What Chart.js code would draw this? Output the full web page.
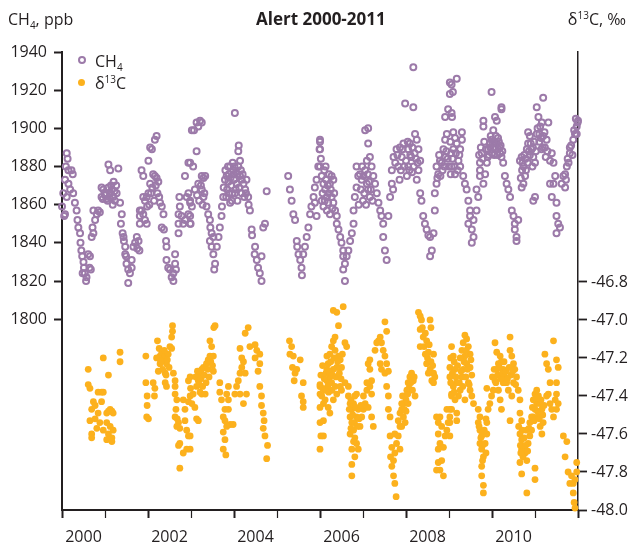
<!DOCTYPE html>
<html><head><meta charset="utf-8">
<script src="https://cdn.jsdelivr.net/npm/chart.js@4.4.0/dist/chart.umd.min.js"></script>
<style>
html,body{margin:0;padding:0;background:#fff;}
#wrap{position:relative;width:632px;height:547px;font-family:'Open Sans',sans-serif;color:#231f20;}
canvas{position:absolute;left:0;top:0;}
.t{position:absolute;white-space:nowrap;font-size:16px;line-height:18px;}
.t sub,.t sup{font-size:10px;line-height:0;}
.mk{position:absolute;border-radius:50%;box-sizing:border-box;}
</style></head><body>
<div id="wrap">
<canvas id="c" width="632" height="547"></canvas>
<div class="t" style="left:8px;top:10px">CH<sub>4</sub>, ppb</div>
<div class="t" style="left:256px;top:10px;font-weight:bold;font-size:17px">Alert 2000-2011</div>
<div class="t" style="right:6px;top:10px">δ<sup>13</sup>C, ‰</div>
<div class="mk" style="left:78px;top:56px;width:8px;height:8px;border:2px solid #9c7aa9"></div>
<div class="t" style="left:95px;top:52px">CH<sub>4</sub></div>
<div class="mk" style="left:78px;top:79px;width:7px;height:7px;background:#fcb11d"></div>
<div class="t" style="left:95px;top:74px">δ<sup>13</sup>C</div>
</div>
<script>
const yearTicks = [2000,2001,2002,2003,2004,2005,2006,2007,2008,2009,2010,2011,2012];
const ch4Ticks = [1800,1820,1840,1860,1880,1900,1920,1940];
const d13Ticks = [-48.0,-47.8,-47.6,-47.4,-47.2,-47.0,-46.8];

// CH4, ppb : [decimal year, value]
const ch4Data = [
[2000.11,1887],[2000.13,1884],[2000.09,1880],[2000.15,1878],[2000.22,1878],[2000.25,1876],[2000.07,1873],[2000.15,1871],[2000.03,1866],[2000.11,1864],[2000.00,1859],[2000.07,1855],[2000.05,1854],[2000.19,1868],[2000.26,1866],[2000.30,1861],[2000.34,1857],[2000.36,1852],[2000.38,1848],[2000.42,1845],[2000.43,1840],[2000.45,1836],[2000.47,1833],[2000.50,1830],[2000.51,1827],[2000.53,1824],[2000.56,1820],[2000.61,1834],[2000.65,1833],[2000.64,1827],[2000.67,1826],[2000.57,1822],[2000.48,1824],
[2000.69,1843],[2000.73,1845],[2000.71,1848],[2000.77,1852],[2000.81,1855],[2000.84,1857],[2000.88,1856],[2000.73,1857],
[2000.92,1869],[2000.96,1868],[2001.00,1865],[2001.04,1863],[2001.08,1869],[2001.12,1866],[2001.16,1868],[2001.19,1864],[2001.23,1862],[2001.27,1866],[2001.31,1879],[2001.08,1881],[2001.12,1878],[2000.95,1863],[2000.92,1864],[2001.35,1861],[2001.39,1855],[2001.37,1850],[2001.41,1845],[2001.43,1843],[2001.47,1838],[2001.47,1834],[2001.50,1829],[2001.54,1826],[2001.58,1824],[2001.54,1819],[2001.62,1831],[2001.66,1838],[2001.70,1840],[2001.74,1843],[2001.78,1841],[2001.75,1837],[2001.80,1836],[2001.62,1827],[2001.49,1833],[2001.44,1841],
[2001.81,1854],[2001.85,1857],[2001.81,1850],[2001.89,1855],[2001.93,1852],[2001.97,1850],[2001.98,1859],[2001.97,1864],[2002.01,1866],[2002.05,1871],[2002.01,1883],[2002.05,1890],[2002.09,1889],[2002.16,1894],[2002.20,1896],[2002.16,1875],[2002.20,1874],[2002.12,1876],[2001.85,1878],[2001.89,1875],[2001.89,1864],[2001.93,1862],[2001.81,1857],
[2002.28,1861],[2002.32,1859],[2002.36,1855],[2002.32,1848],[2002.37,1847],[2002.42,1841],[2002.43,1838],[2002.43,1831],[2002.47,1827],[2002.51,1826],[2002.55,1822],[2002.59,1820],[2002.63,1834],[2002.65,1826],[2002.63,1829],[2002.59,1824],[2002.71,1845],[2002.71,1850],[2002.71,1855],[2002.73,1864],[2002.74,1859],[2002.78,1854],[2002.86,1875],[2002.90,1864],[2002.94,1866],[2002.94,1882],[2002.94,1855],[2002.98,1850],[2003.02,1899],[2002.98,1861],[2002.82,1850],[2002.86,1852],
[2003.13,1903],[2003.21,1904],[2003.17,1901],[2003.07,1899],[2003.25,1903],[2003.13,1888],[2003.05,1880],[2002.98,1882],[2003.25,1875],[2003.29,1874],[2003.33,1875],[2003.17,1871],[2003.25,1868],[2003.29,1864],[2002.98,1862],[2003.02,1859],[2002.98,1854],[2002.99,1850],[2003.36,1859],[2003.40,1855],[2003.44,1852],[2003.45,1848],[2003.48,1845],[2003.44,1841],[2003.52,1843],[2003.48,1838],[2003.52,1834],[2003.56,1829],[2003.54,1826],[2003.60,1838],[2003.64,1843],[2003.67,1848],[2003.71,1854],[2003.72,1859],[2003.75,1864],[2003.76,1869],[2003.79,1873],[2003.83,1875],[2003.87,1872],[2003.84,1868],[2003.91,1880],[2003.98,1878],[2003.97,1882],[2003.99,1876],[2004.02,1866],[2003.91,1861],[2003.95,1862],[2004.06,1871],[2004.10,1880],[2004.14,1883],[2004.10,1888],[2004.11,1891],[2004.02,1908],[2004.14,1875],[2004.18,1873],[2004.22,1871],[2004.26,1868],[2004.29,1873],[2004.33,1864],[2004.34,1860],[2004.37,1857],[2004.41,1847],[2004.42,1844],[2004.49,1838],[2004.48,1834],[2004.53,1831],[2004.56,1827],[2004.60,1824],[2004.64,1820],[2004.64,1833],[2004.68,1848],[2004.72,1850],[2004.76,1867],
[2003.80,1878],[2003.86,1880],[2003.94,1870],[2004.00,1873],[2004.05,1877],[2004.12,1869],[2004.18,1866],[2003.89,1866],[2004.08,1862],
[2005.26,1875],[2005.30,1868],[2005.34,1862],[2005.38,1855],[2005.42,1852],[2005.46,1841],[2005.47,1838],[2005.50,1834],[2005.54,1831],[2005.57,1827],[2005.58,1823],[2005.61,1834],[2005.65,1838],[2005.69,1843],[2005.73,1848],[2005.77,1855],[2005.80,1859],[2005.85,1864],[2005.88,1869],[2005.92,1873],[2005.96,1880],[2006.00,1893],[2005.99,1889],[2005.88,1861],[2005.92,1854],
[2006.00,1894],[2006.00,1889],[2006.00,1880],[2006.04,1875],[2006.08,1871],[2006.12,1868],[2006.16,1864],[2006.19,1861],[2006.04,1862],[2006.08,1859],[2006.16,1857],[2006.23,1855],[2006.27,1875],[2006.31,1873],[2006.23,1871],[2006.27,1864],[2006.31,1861],[2006.35,1857],[2006.39,1854],[2006.39,1850],[2006.43,1847],[2006.47,1843],[2006.50,1840],[2006.54,1836],[2006.54,1833],[2006.58,1829],[2006.54,1826],[2006.58,1820],[2006.62,1833],[2006.66,1836],[2006.70,1841],[2006.74,1845],[2006.78,1850],[2006.78,1857],[2006.81,1864],[2006.85,1869],[2006.89,1875],[2006.93,1876],[2006.97,1873],[2007.01,1875],[2007.05,1878],[2007.09,1871],[2007.12,1868],[2007.16,1864],[2007.09,1883],[2007.05,1899],[2007.12,1900],[2007.12,1892],[2007.16,1885],[2007.20,1880],[2007.24,1875],[2007.28,1871],[2007.32,1866],[2007.36,1861],[2007.40,1857],[2007.43,1854],[2007.47,1850],[2007.47,1843],[2007.51,1836],[2007.55,1831],[2007.59,1854],[2007.63,1864],[2007.67,1871],[2007.67,1878],[2007.71,1885],[2007.78,1889],[2007.86,1890],[2007.94,1892],[2007.98,1913],[2008.17,1911],[2008.17,1932],[2008.05,1889],[2008.09,1892],[2008.21,1897],[2008.25,1894],[2008.29,1889],[2008.33,1883],[2008.29,1878],[2008.25,1873],[2008.33,1866],[2008.36,1862],[2008.40,1854],[2008.44,1850],[2008.48,1847],[2008.52,1844],[2008.56,1843],[2008.64,1845],[2008.60,1836],[2008.56,1833],[2008.67,1857],[2008.67,1866],[2008.71,1871],[2008.75,1876],[2008.71,1880],[2008.79,1883],[2008.87,1889],[2008.91,1894],[2008.95,1897],[2008.91,1906],[2008.98,1910],[2009.02,1918],[2009.02,1924],
[2007.75,1882],[2007.82,1880],[2007.90,1885],[2008.00,1883],[2008.05,1880],[2008.12,1885],[2008.18,1880],[2008.20,1887],[2008.02,1875],[2007.85,1873],[2007.70,1868],
[2006.85,1880],[2006.95,1868],[2007.00,1862],[2006.90,1860],[2006.10,1878],[2006.20,1866],[2006.14,1873],
[2008.80,1875],[2008.85,1878],[2008.92,1885],[2009.00,1880],[2009.05,1887],
[2009.18,1926],[2009.06,1923],[2009.09,1919],[2009.06,1908],[2009.07,1906],[2009.10,1898],[2009.30,1898],[2009.14,1895],[2009.18,1892],[2009.26,1889],[2009.30,1894],[2009.10,1889],[2009.06,1880],[2009.14,1876],[2009.22,1883],[2009.26,1880],[2009.33,1875],[2009.37,1871],[2009.41,1868],[2009.45,1862],[2009.49,1857],[2009.49,1854],[2009.45,1850],[2009.53,1847],[2009.57,1843],[2009.53,1840],[2009.57,1852],[2009.64,1857],[2009.68,1864],[2009.64,1868],[2009.72,1875],[2009.72,1882],[2009.76,1887],[2009.80,1904],[2009.80,1901],[2009.72,1878],[2009.80,1871],[2009.84,1876],[2009.88,1882],[2009.91,1889],[2009.95,1892],[2009.99,1894],[2010.03,1890],[2010.07,1889],[2010.11,1892],[2010.15,1889],[2010.19,1887],[2010.22,1885],[2009.99,1919],[2010.03,1899],[2010.07,1906],[2010.11,1904],[2010.22,1911],[2010.22,1910],[2010.26,1882],[2010.30,1875],[2010.34,1871],[2010.38,1868],[2010.42,1864],[2010.46,1857],[2010.50,1854],[2010.53,1850],[2010.53,1847],[2010.57,1843],[2010.57,1841],[2010.61,1852],[2010.65,1883],[2010.69,1885],[2010.73,1880],[2010.77,1875],[2010.73,1871],[2010.69,1869],[2010.81,1889],[2010.84,1892],[2010.84,1898],[2010.88,1896],[2010.92,1889],[2010.96,1885],[2011.00,1882],[2011.04,1897],[2011.04,1911],[2011.08,1906],[2011.12,1901],[2011.19,1916],[2011.16,1903],[2011.19,1896],[2011.23,1890],[2011.27,1894],[2011.31,1903],[2011.35,1883],[2011.39,1887],[2011.43,1882],[2011.35,1871],[2011.39,1864],[2011.00,1864],[2010.96,1862],[2011.43,1871],[2011.47,1875],[2011.50,1861],[2011.50,1854],[2011.54,1850],[2011.58,1848],[2011.50,1845],[2011.62,1871],[2011.66,1875],[2011.70,1876],[2011.70,1869],[2011.74,1880],[2011.78,1882],[2011.81,1887],[2011.81,1890],[2011.89,1894],[2011.93,1897],[2011.97,1901],[2011.95,1905],[2012.00,1904],[2011.97,1897],
[2009.90,1885],[2010.00,1887],[2010.05,1893],[2010.14,1895],[2010.18,1890],[2009.96,1890],[2010.70,1878],[2010.78,1884],[2010.88,1886],[2010.95,1890],[2011.10,1893],[2011.15,1889],[2011.25,1885],
[2001.02,1866],[2001.06,1862],[2001.10,1864],[2001.14,1870],[2001.18,1860],[2001.22,1867],[2001.26,1870],[2001.20,1872],
[2002.03,1860],[2002.07,1866],[2002.10,1869],[2002.14,1862],[2002.18,1870],[2002.22,1866],[2002.26,1864],[2002.24,1872],
[2003.09,1868],[2003.14,1865],[2003.19,1862],[2003.23,1870],[2003.27,1860],[2003.31,1866],
[2003.82,1864],[2003.88,1876],[2003.92,1874],[2003.96,1866],[2004.01,1880],[2004.04,1868],[2004.08,1876],[2004.16,1878],[2004.20,1876],[2004.24,1864],[2004.28,1866],
[2006.02,1884],[2006.06,1866],[2006.11,1862],[2006.13,1880],[2006.18,1870],[2006.21,1876],[2006.25,1868],[2006.29,1858],[2006.33,1866],
[2007.03,1866],[2007.07,1860],[2007.11,1876],[2007.14,1872],[2007.18,1868],[2007.22,1862],[2006.98,1880],
[2007.80,1886],[2007.88,1878],[2007.92,1889],[2007.96,1880],[2008.04,1893],[2008.08,1878],[2008.10,1886],[2008.15,1890],[2008.23,1884],[2008.27,1882],[2008.14,1877],
[2008.73,1874],[2008.77,1886],[2008.83,1882],[2008.89,1880],[2008.94,1888],[2008.97,1884],[2009.03,1893],[2009.04,1876],[2009.08,1884],[2009.12,1880],[2009.16,1887],[2009.20,1878],[2009.24,1886],
[2009.70,1886],[2009.74,1890],[2009.78,1884],[2009.82,1893],[2009.86,1889],[2009.93,1886],[2009.97,1896],[2010.01,1892],[2010.05,1886],[2010.09,1896],[2010.13,1886],[2010.16,1893],[2010.20,1891],[2010.24,1888],
[2010.67,1874],[2010.71,1882],[2010.75,1886],[2010.79,1878],[2010.83,1882],[2010.86,1888],[2010.90,1892],[2010.94,1880],[2010.98,1893],[2011.02,1888],[2011.06,1900],[2011.10,1897],[2011.14,1895],[2011.18,1890],[2011.22,1898],[2011.29,1888],
[2011.72,1873],[2011.76,1884],[2011.84,1891],[2011.87,1886],[2011.91,1899],[2011.99,1903]
];

// delta13C, per mil : [decimal year, value]
const d13Data = [
[2000.61,-47.26],[2000.61,-47.34],[2000.65,-47.36],[2000.84,-47.38],[2000.92,-47.38],[2000.96,-47.38],[2000.73,-47.43],[2000.69,-47.47],[2000.77,-47.45],[2000.92,-47.43],[2000.65,-47.53],[2000.77,-47.52],[2000.84,-47.49],[2000.88,-47.54],[2000.69,-47.60],[2000.69,-47.62],[2000.81,-47.57],[2000.96,-47.58],[2000.96,-47.20],[2001.08,-47.29],[2001.04,-47.49],[2001.08,-47.48],[2001.12,-47.47],[2001.16,-47.48],[2001.19,-47.49],[2001.04,-47.54],[2001.12,-47.56],[2001.19,-47.58],[2001.08,-47.60],[2001.16,-47.62],[2001.04,-47.63],[2001.16,-47.64],[2001.35,-47.17],[2001.35,-47.22],
[2001.95,-47.19],[2001.95,-47.33],[2001.98,-47.40],[2001.98,-47.45],[2001.97,-47.51],[2002.01,-47.52],[2002.12,-47.33],[2002.16,-47.36],[2002.15,-47.40],[2002.22,-47.11],[2002.28,-47.19],[2002.32,-47.17],[2002.28,-47.23],[2002.36,-47.21],[2002.40,-47.19],[2002.43,-47.23],[2002.47,-47.18],[2002.51,-47.14],[2002.55,-47.09],[2002.57,-47.03],[2002.57,-47.06],[2002.55,-47.15],[2002.40,-47.28],[2002.24,-47.27],[2002.40,-47.33],[2002.43,-47.35],[2002.59,-47.28],[2002.63,-47.32],[2002.63,-47.35],[2002.63,-47.39],[2002.67,-47.42],[2002.65,-47.47],[2002.63,-47.51],[2002.68,-47.52],[2002.71,-47.54],[2002.74,-47.57],[2002.67,-47.56],[2002.82,-47.42],[2002.86,-47.47],[2002.86,-47.53],[2002.90,-47.58],[2002.94,-47.61],[2002.71,-47.66],[2002.74,-47.65],[2002.90,-47.68],[2002.82,-47.70],[2002.74,-47.78],[2002.94,-47.32],[2002.98,-47.40],[2002.94,-47.43],
[2002.98,-47.30],[2002.99,-47.36],[2003.05,-47.39],[2003.02,-47.44],[2003.09,-47.46],[2003.13,-47.35],[2003.17,-47.32],[2003.21,-47.28],[2003.25,-47.26],[2003.29,-47.25],[2003.21,-47.38],[2003.25,-47.39],[2003.33,-47.39],[2003.36,-47.23],[2003.40,-47.21],[2003.44,-47.19],[2003.52,-47.19],[2003.52,-47.27],[2003.44,-47.11],[2003.48,-47.14],[2003.53,-47.04],[2003.56,-47.03],[2003.13,-47.52],[2003.17,-47.53],[2002.98,-47.61],[2002.98,-47.68],[2003.67,-47.33],[2003.67,-47.38],[2003.71,-47.42],[2003.79,-47.47],[2003.75,-47.51],[2003.79,-47.53],[2003.87,-47.35],[2003.83,-47.39],[2003.87,-47.42],[2003.87,-47.47],[2003.83,-47.56],[2003.75,-47.59],[2003.91,-47.55],[2003.98,-47.55],[2003.79,-47.63],[2003.75,-47.68],[2003.81,-47.71],[2004.02,-47.39],[2004.06,-47.35],[2004.10,-47.32],[2004.14,-47.28],[2004.18,-47.25],[2004.22,-47.22],[2004.26,-47.28],[2004.29,-47.39],[2004.22,-47.44],[2004.14,-47.39],[2004.14,-47.15],[2004.18,-47.20],[2004.26,-47.07],[2004.33,-47.04],[2004.37,-47.14],[2004.49,-47.13],[2004.53,-47.16],[2004.49,-47.20],[2004.60,-47.18],[2004.60,-47.23],[2004.56,-47.27],[2004.60,-47.35],[2004.64,-47.40],[2004.64,-47.45],[2004.68,-47.49],[2004.70,-47.53],[2004.68,-47.57],[2004.72,-47.61],[2004.78,-47.66],[2004.76,-47.73],
[2005.29,-47.11],[2005.30,-47.18],[2005.34,-47.14],[2005.38,-47.19],[2005.36,-47.25],[2005.42,-47.28],[2005.46,-47.26],[2005.54,-47.21],[2005.40,-47.32],[2005.61,-47.33],[2005.57,-47.40],[2005.61,-47.43],[2005.61,-47.46],[2006.00,-47.34],[2006.00,-47.39],[2006.00,-47.54],[2006.02,-47.61],[2006.00,-47.68],
[2006.00,-47.35],[2006.04,-47.40],[2006.08,-47.44],[2006.00,-47.46],[2006.12,-47.37],[2006.16,-47.32],[2006.16,-47.26],[2006.19,-47.23],[2006.16,-47.19],[2006.23,-47.18],[2006.27,-47.14],[2006.31,-47.11],[2006.35,-47.09],[2006.31,-46.95],[2006.39,-46.96],[2006.43,-47.03],[2006.54,-46.93],[2006.35,-47.16],[2006.43,-47.19],[2006.47,-47.21],[2006.50,-47.25],[2006.39,-47.25],[2006.31,-47.26],[2006.23,-47.30],[2006.27,-47.33],[2006.35,-47.35],[2006.39,-47.39],[2006.31,-47.42],[2006.47,-47.35],[2006.50,-47.37],[2006.58,-47.33],[2006.62,-47.14],[2006.58,-47.12],[2006.08,-47.53],[2006.08,-47.61],[2006.19,-47.46],[2006.23,-47.49],
[2006.66,-47.35],[2006.66,-47.40],[2006.70,-47.44],[2006.74,-47.47],[2006.78,-47.44],[2006.81,-47.40],[2006.85,-47.39],[2006.70,-47.51],[2006.74,-47.54],[2006.78,-47.58],[2006.70,-47.60],[2006.81,-47.62],[2006.85,-47.65],[2006.89,-47.68],[2006.93,-47.56],[2006.97,-47.51],[2007.01,-47.47],[2006.85,-47.51],[2006.89,-47.47],[2006.74,-47.68],[2006.74,-47.76],[2006.74,-47.82],[2006.81,-47.72],[2007.01,-47.40],[2007.05,-47.44],[2007.09,-47.37],[2007.16,-47.35],[2007.20,-47.32],[2007.16,-47.26],[2007.12,-47.23],[2007.16,-47.21],[2007.09,-47.33],[2007.20,-47.39],[2007.12,-47.46],[2007.20,-47.51],[2007.24,-47.56],
[2007.28,-47.16],[2007.32,-47.12],[2007.36,-47.11],[2007.40,-47.09],[2007.43,-47.12],[2007.47,-47.16],[2007.51,-47.19],[2007.55,-47.23],[2007.51,-47.01],[2007.55,-47.06],[2007.40,-47.23],[2007.43,-47.26],[2007.51,-47.28],[2007.59,-47.27],[2007.55,-47.35],[2007.59,-47.40],[2007.59,-47.47],[2007.63,-47.51],[2007.63,-47.61],[2007.67,-47.67],[2007.64,-47.72],[2007.67,-47.77],[2007.71,-47.82],[2007.74,-47.86],[2007.77,-47.93],[2007.71,-47.74],[2007.74,-47.70],[2007.78,-47.65],[2007.74,-47.60],[2007.82,-47.61],[2007.86,-47.56],[2007.82,-47.53],[2007.86,-47.49],[2007.90,-47.47],[2007.94,-47.44],[2007.98,-47.40],[2008.02,-47.37],[2008.05,-47.33],[2008.09,-47.30],[2008.13,-47.28],[2008.17,-47.32],[2008.21,-47.40],[2007.94,-47.51],[2007.90,-47.56],[2007.98,-47.54],[2007.86,-47.68],[2007.90,-47.44],[2008.05,-47.44],
[2008.29,-46.96],[2008.33,-46.98],[2008.36,-47.00],[2008.56,-47.00],[2008.33,-47.05],[2008.40,-47.09],[2008.48,-47.11],[2008.33,-47.14],[2008.52,-47.17],[2008.64,-47.18],[2008.48,-47.23],[2008.56,-47.26],[2008.64,-47.28],[2008.60,-47.32],[2008.64,-47.33],[2008.67,-47.30],[2008.71,-47.51],[2008.75,-47.54],[2008.79,-47.51],[2008.83,-47.56],[2008.75,-47.60],[2008.79,-47.65],[2008.87,-47.67],[2008.75,-47.68],[2008.75,-47.75],[2008.79,-47.79],[2008.87,-47.82],[2008.91,-47.61],[2008.95,-47.58],[2008.98,-47.54],[2009.02,-47.47],[2009.06,-47.40],[2008.95,-47.47],[2009.02,-47.51],[2008.71,-47.79],[2008.83,-47.74],
[2009.06,-47.14],[2009.10,-47.19],[2009.02,-47.25],[2009.02,-47.30],[2009.14,-47.26],[2009.18,-47.33],[2009.10,-47.35],[2009.06,-47.39],[2009.14,-47.42],[2009.22,-47.40],[2009.26,-47.37],[2009.30,-47.30],[2009.33,-47.26],[2009.30,-47.16],[2009.33,-47.12],[2009.37,-47.08],[2009.41,-47.10],[2009.45,-47.14],[2009.49,-47.18],[2009.37,-47.19],[2009.41,-47.23],[2009.49,-47.25],[2009.53,-47.29],[2009.45,-47.33],[2009.49,-47.37],[2009.53,-47.40],[2009.57,-47.44],[2009.18,-47.49],[2009.18,-47.53],[2009.06,-47.47],[2009.02,-47.54],[2009.02,-47.61],[2009.37,-47.42],
[2009.68,-47.47],[2009.72,-47.51],[2009.68,-47.54],[2009.72,-47.58],[2009.76,-47.61],[2009.72,-47.65],[2009.76,-47.68],[2009.80,-47.72],[2009.76,-47.77],[2009.76,-47.82],[2009.80,-47.87],[2009.80,-47.91],[2009.84,-47.65],[2009.88,-47.60],[2009.88,-47.54],[2009.88,-47.36],[2009.91,-47.47],[2009.95,-47.44],[2009.99,-47.40],[2010.03,-47.37],[2010.07,-47.32],[2010.11,-47.26],[2010.15,-47.23],[2010.07,-47.12],[2010.11,-47.17],[2010.19,-47.19],[2010.22,-47.22],[2010.26,-47.26],[2010.30,-47.30],[2010.34,-47.33],[2010.38,-47.37],[2010.42,-47.09],[2010.42,-47.16],[2010.46,-47.19],[2010.50,-47.23],[2010.53,-47.26],[2010.57,-47.30],[2010.50,-47.33],[2010.46,-47.40],[2010.42,-47.53],[2010.15,-47.37],[2010.19,-47.42],[2010.22,-47.47],[2010.26,-47.33],[2010.61,-47.37],[2010.65,-47.42],[2010.65,-47.49],[2010.69,-47.53],
[2010.65,-47.60],[2010.69,-47.63],[2010.73,-47.67],[2010.77,-47.70],[2010.69,-47.68],[2010.65,-47.75],[2010.69,-47.81],[2010.81,-47.74],[2010.84,-47.65],[2010.88,-47.61],[2010.92,-47.58],[2010.81,-47.91],[2011.00,-47.84],[2011.00,-47.78],[2010.88,-47.54],[2010.96,-47.51],[2011.00,-47.47],[2011.04,-47.44],[2010.96,-47.42],[2011.00,-47.39],[2011.04,-47.37],[2011.08,-47.40],[2011.12,-47.44],[2011.16,-47.47],[2011.08,-47.51],[2011.12,-47.56],[2011.16,-47.60],[2011.19,-47.54],[2010.92,-47.51],[2011.27,-47.40],[2011.31,-47.39],[2011.35,-47.44],[2011.39,-47.47],[2011.43,-47.51],[2011.47,-47.42],[2011.50,-47.39],[2011.54,-47.44],[2011.50,-47.47],[2011.23,-47.18],[2011.27,-47.23],[2011.31,-47.26],[2011.43,-47.11],[2011.50,-47.21],[2011.54,-47.25],[2011.50,-47.33],[2011.35,-47.33],
[2011.66,-47.61],[2011.74,-47.64],[2011.70,-47.72],[2011.77,-47.80],[2011.85,-47.82],[2011.93,-47.84],[2011.97,-47.75],[2011.89,-47.86],[2011.89,-47.91],[2011.91,-47.96],[2011.93,-47.99],[2011.97,-47.80],[2011.81,-47.86],
[2002.20,-47.20],[2002.26,-47.15],[2002.30,-47.22],[2002.34,-47.26],[2002.38,-47.16],[2002.42,-47.29],[2002.45,-47.21],[2002.49,-47.25],
[2003.11,-47.30],[2003.15,-47.27],[2003.19,-47.34],[2003.23,-47.31],[2003.27,-47.35],[2003.31,-47.29],[2003.35,-47.33],[2003.39,-47.26],[2003.42,-47.30],[2003.46,-47.22],[2003.50,-47.24],
[2006.02,-47.29],[2006.06,-47.24],[2006.10,-47.31],[2006.14,-47.28],[2006.18,-47.35],[2006.21,-47.27],[2006.25,-47.22],[2006.29,-47.29],[2006.33,-47.20],[2006.37,-47.30],[2006.41,-47.22],[2006.45,-47.28],[2006.49,-47.31],[2006.52,-47.18],[2006.06,-47.36],[2006.12,-47.42],[2006.20,-47.38],[2006.28,-47.37],
[2006.68,-47.47],[2006.72,-47.42],[2006.76,-47.50],[2006.80,-47.54],[2006.83,-47.46],[2006.87,-47.56],[2006.91,-47.52],[2006.95,-47.45],[2006.72,-47.57],[2006.78,-47.64],
[2007.92,-47.40],[2007.96,-47.47],[2008.00,-47.42],[2008.04,-47.39],[2008.07,-47.36],[2008.11,-47.33],[2008.15,-47.37],[2008.19,-47.30],[2008.00,-47.48],
[2008.38,-47.04],[2008.42,-47.14],[2008.45,-47.07],[2008.50,-47.20],[2008.54,-47.13],[2008.58,-47.22],[2008.62,-47.24],[2008.45,-47.18],[2008.52,-47.28],[2008.58,-47.04],
[2009.04,-47.20],[2009.08,-47.28],[2009.12,-47.22],[2009.16,-47.30],[2009.20,-47.24],[2009.24,-47.33],[2009.28,-47.27],[2009.32,-47.35],[2009.35,-47.22],[2009.39,-47.30],[2009.43,-47.26],[2009.47,-47.34],[2009.51,-47.21],[2009.12,-47.38],[2009.26,-47.20],[2009.40,-47.16],[2009.04,-47.33],
[2009.70,-47.56],[2009.74,-47.62],[2009.78,-47.66],[2009.82,-47.58],[2009.86,-47.70],[2009.78,-47.74],[2009.86,-47.52],
[2010.01,-47.30],[2010.05,-47.26],[2010.09,-47.33],[2010.13,-47.29],[2010.17,-47.25],[2010.21,-47.31],[2010.24,-47.28],[2010.28,-47.22],[2010.32,-47.27],[2010.36,-47.31],[2010.40,-47.25],[2010.44,-47.29],[2010.48,-47.27],[2010.55,-47.34],
[2010.62,-47.56],[2010.66,-47.66],[2010.70,-47.58],[2010.72,-47.72],[2010.75,-47.62],[2010.78,-47.66],[2010.80,-47.58],[2010.83,-47.69],[2010.86,-47.57],[2010.67,-47.70],
[2010.94,-47.46],[2010.98,-47.53],[2011.02,-47.41],[2011.06,-47.48],[2011.10,-47.52],[2011.14,-47.42],[2011.18,-47.50],[2011.21,-47.45]
];

const ch4Points = ch4Data.map(p => ({x:p[0], y:p[1]}));
const d13Points = d13Data.map(p => ({x:p[0], y:p[1]}));
const ink = '#231f20';
const tickFont = {family:'Open Sans', size:16};

new Chart(document.getElementById('c'), {
  type:'scatter',
  data:{datasets:[
    {label:'CH₄', data:ch4Points, yAxisID:'y', pointStyle:'circle', pointRadius:3, pointBorderWidth:2, borderColor:'#9c7aa9', backgroundColor:'rgba(255,255,255,0)', clip:false},
    {label:'δ¹³C', data:d13Points, yAxisID:'y2', pointStyle:'circle', pointRadius:3.4, pointBorderWidth:0, borderWidth:0, borderColor:'#fcb11d', backgroundColor:'#fcb11d', clip:false}
  ]},
  options:{
    responsive:false, animation:false, devicePixelRatio:1,
    layout:{padding:{top:52,left:0,right:0,bottom:0}},
    plugins:{legend:{display:false}, tooltip:{enabled:false}, title:{display:false}},
    scales:{
      x:{type:'linear', position:'bottom', min:2000, max:2012,
        afterBuildTicks:s=>{s.ticks = yearTicks.map(v=>({value:v}));},
        afterFit:s=>{s.height = 37;},
        ticks:{labelOffset:21.5, autoSkip:false, maxRotation:0, padding:10, font:tickFont, color:ink,
          callback:v=> (v%2===0 && v<2012) ? String(v) : ''},
        grid:{drawOnChartArea:false, drawTicks:true, tickLength:8, tickColor:ink,
          tickWidth:c=> (c.tick && c.tick.value%2===0) ? 2 : 1.2},
        border:{display:true, color:ink, width:2}
      },
      y:{type:'linear', position:'left', min:1700, max:1940,
        afterBuildTicks:s=>{s.ticks = ch4Ticks.map(v=>({value:v}));},
        afterFit:s=>{s.width = 62;},
        ticks:{padding:7, font:tickFont, color:ink, callback:v=>String(v)},
        grid:{drawOnChartArea:false, drawTicks:true, tickLength:8, tickColor:ink, tickWidth:2},
        border:{display:true, color:ink, width:2}
      },
      y2:{type:'linear', position:'right', min:-48, max:-45.59,
        afterBuildTicks:s=>{s.ticks = d13Ticks.map(v=>({value:v}));},
        afterFit:s=>{s.width = 54;},
        ticks:{padding:4, font:tickFont, color:ink, callback:v=>Number(v).toFixed(1)},
        grid:{drawOnChartArea:false, drawTicks:true, tickLength:9, tickColor:ink, tickWidth:1.8},
        border:{display:true, color:ink, width:1.5}
      }
    }
  }
});
</script>
</body></html>
